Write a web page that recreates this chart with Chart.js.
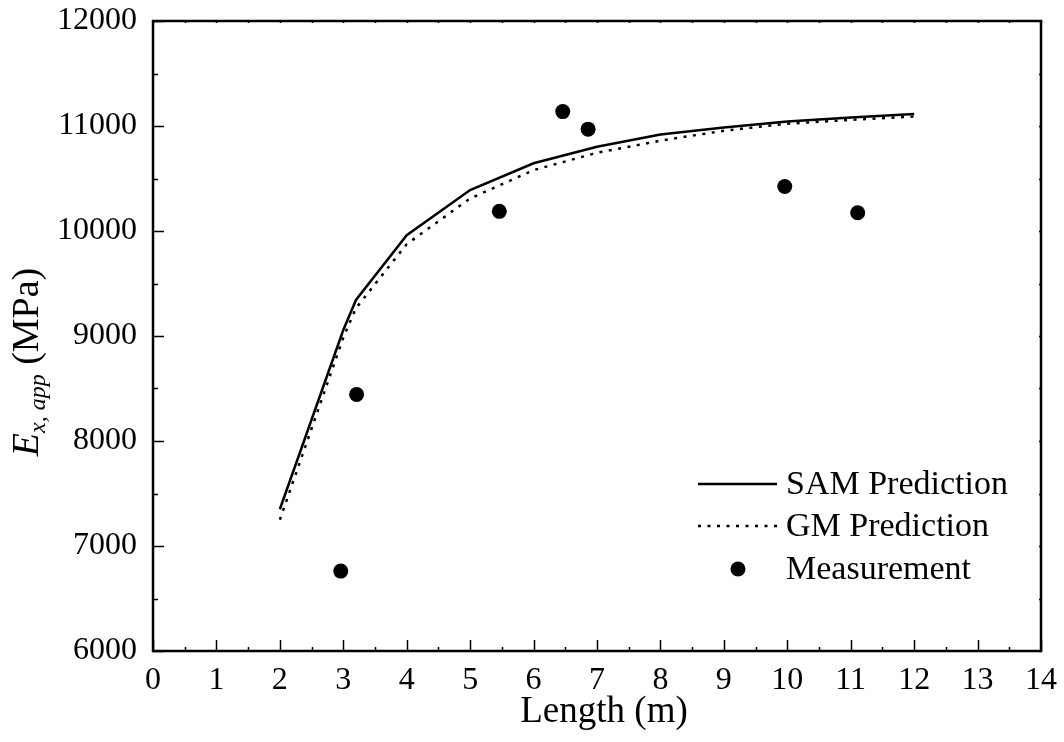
<!DOCTYPE html>
<html>
<head>
<meta charset="utf-8">
<script src="https://cdn.jsdelivr.net/npm/chart.js@4.4.0/dist/chart.umd.min.js"></script>
<style>
  html, body { margin: 0; padding: 0; background: #fff; }
  #wrap { width: 1064px; height: 742px; }
</style>
</head>
<body>
<div id="wrap"><canvas id="modulusChart" width="1064" height="742"></canvas></div>
<script>
// apparent modulus vs. specimen length
const samLength = [2, 3, 3.2, 4, 5, 6, 7, 8, 9, 10, 11, 12];
const samModulus = [7350, 9057, 9343, 9960, 10390, 10645, 10803, 10918, 10985, 11042, 11082, 11114];

const gmLength = [2, 3, 3.2, 4, 5, 6, 7, 8, 9, 10, 11, 12];
const gmModulus = [7250, 8985, 9265, 9875, 10310, 10580, 10745, 10860, 10955, 11022, 11058, 11090];

const measuredLength = [2.96, 3.21, 5.46, 6.46, 6.86, 9.96, 11.11];
const measuredModulus = [6761, 8444, 10187, 11137, 10970, 10424, 10174];

const xTickValues = [0, 1, 2, 3, 4, 5, 6, 7, 8, 9, 10, 11, 12, 13, 14];
const yTickValues = [6000, 7000, 8000, 9000, 10000, 11000, 12000];

const SERIF = "'Liberation Serif', 'Times New Roman', serif";

function toPoints(xs, ys) {
    return xs.map((x, i) => ({ x: x, y: ys[i] }));
}

// frame, inward tick marks, axis titles and the in-plot legend
const framePlugin = {
    id: 'frame',
    afterDraw(chart) {
        const ctx = chart.ctx;
        const area = chart.chartArea;
        const xs = chart.scales.x;
        const ys = chart.scales.y;

        ctx.save();
        ctx.strokeStyle = '#000';
        ctx.lineWidth = 1.5;
        ctx.lineCap = 'butt';

        // x ticks (bottom long, top tiny)
        for (let v = 0; v <= 14; v += 0.5) {
            const px = Math.round(xs.getPixelForValue(v)) + 0.5;
            const major = Number.isInteger(v);
            ctx.beginPath();
            ctx.moveTo(px, area.bottom);
            ctx.lineTo(px, area.bottom - (major ? 11 : 4));
            ctx.moveTo(px, area.top);
            ctx.lineTo(px, area.top + 2);
            ctx.stroke();
        }
        // y ticks (left long, right tiny)
        for (let v = 6000; v <= 12000; v += 500) {
            const py = Math.round(ys.getPixelForValue(v)) + 0.5;
            const major = v % 1000 === 0;
            ctx.beginPath();
            ctx.moveTo(area.left, py);
            ctx.lineTo(area.left + (major ? 11 : 5), py);
            ctx.moveTo(area.right, py);
            ctx.lineTo(area.right - 2, py);
            ctx.stroke();
        }

        ctx.lineWidth = 2.5;
        ctx.strokeRect(area.left, area.top, area.right - area.left, area.bottom - area.top);

        // x title
        ctx.fillStyle = '#000';
        ctx.font = '37px ' + SERIF;
        ctx.textAlign = 'center';
        ctx.textBaseline = 'alphabetic';
        ctx.fillText('Length (m)', (area.left + area.right) / 2 + 7, 722);

        // y title: E with italic subscript, then (MPa)
        const parts = [
            { text: 'E', font: 'italic 38px ' + SERIF, dy: 0 },
            { text: 'x, app', font: 'italic 24px ' + SERIF, dy: 7 },
            { text: ' (MPa)', font: '38px ' + SERIF, dy: 0 }
        ];
        let total = 0;
        parts.forEach(p => { ctx.font = p.font; p.w = ctx.measureText(p.text).width; total += p.w; });
        ctx.translate(38, 362);
        ctx.rotate(-Math.PI / 2);
        ctx.textAlign = 'left';
        let cx = -total / 2;
        parts.forEach(p => {
            ctx.font = p.font;
            ctx.fillText(p.text, cx, p.dy);
            cx += p.w;
        });
        ctx.restore();

        // legend
        ctx.save();
        ctx.font = '34px ' + SERIF;
        ctx.textAlign = 'left';
        ctx.textBaseline = 'middle';
        ctx.fillStyle = '#000';
        const rows = [484, 526, 569];
        chart.data.datasets.forEach((ds, i) => {
            const y = rows[i];
            ctx.strokeStyle = ds.borderColor;
            ctx.fillStyle = ds.backgroundColor || '#000';
            if (ds.showLine === false) {
                ctx.beginPath();
                ctx.arc(738, y, ds.pointRadius, 0, Math.PI * 2);
                ctx.fill();
            } else {
                ctx.lineWidth = ds.borderWidth;
                ctx.setLineDash(ds.borderDash || []);
                ctx.beginPath();
                ctx.moveTo(698, y);
                ctx.lineTo(777, y);
                ctx.stroke();
                ctx.setLineDash([]);
            }
            ctx.fillStyle = '#000';
            ctx.fillText(ds.label, 786, y + 1);
        });
        ctx.restore();
    }
};

const tickFont = { family: SERIF, size: 32 };

new Chart(document.getElementById('modulusChart').getContext('2d'), {
    type: 'scatter',
    data: {
        datasets: [
            {
                label: 'SAM Prediction',
                data: toPoints(samLength, samModulus),
                showLine: true,
                borderColor: '#000',
                borderWidth: 2.5,
                pointRadius: 0,
                fill: false
            },
            {
                label: 'GM Prediction',
                data: toPoints(gmLength, gmModulus),
                showLine: true,
                borderColor: '#000',
                borderWidth: 2.5,
                borderDash: [3, 6.5],
                pointRadius: 0,
                fill: false
            },
            {
                label: 'Measurement',
                data: toPoints(measuredLength, measuredModulus),
                showLine: false,
                borderColor: '#000',
                backgroundColor: '#000',
                pointRadius: 7.5,
                pointBorderWidth: 0
            }
        ]
    },
    options: {
        responsive: false,
        animation: false,
        layout: { padding: { top: 21, right: 23, left: 0, bottom: 0 } },
        plugins: {
            legend: { display: false },
            tooltip: { enabled: false }
        },
        scales: {
            x: {
                type: 'linear',
                min: 0,
                max: 14,
                grid: { display: false, drawTicks: false },
                border: { display: false },
                afterBuildTicks: s => { s.ticks = xTickValues.map(v => ({ value: v })); },
                ticks: { color: '#000', font: tickFont, padding: 10, maxRotation: 0, autoSkip: false },
                afterFit: s => {
                    s.height = 91;
                    s.paddingLeft = 0;
                    s.paddingRight = 0;
                }
            },
            y: {
                type: 'linear',
                min: 6000,
                max: 12000,
                grid: { display: false, drawTicks: false },
                border: { display: false },
                afterBuildTicks: s => { s.ticks = yTickValues.map(v => ({ value: v })); },
                ticks: { color: '#000', font: tickFont, padding: 16, autoSkip: false, callback: v => String(v) },
                afterFit: s => {
                    s.width = 153;
                    s.paddingTop = 0;
                    s.paddingBottom = 0;
                }
            }
        }
    },
    plugins: [framePlugin]
});
</script>
</body>
</html>
